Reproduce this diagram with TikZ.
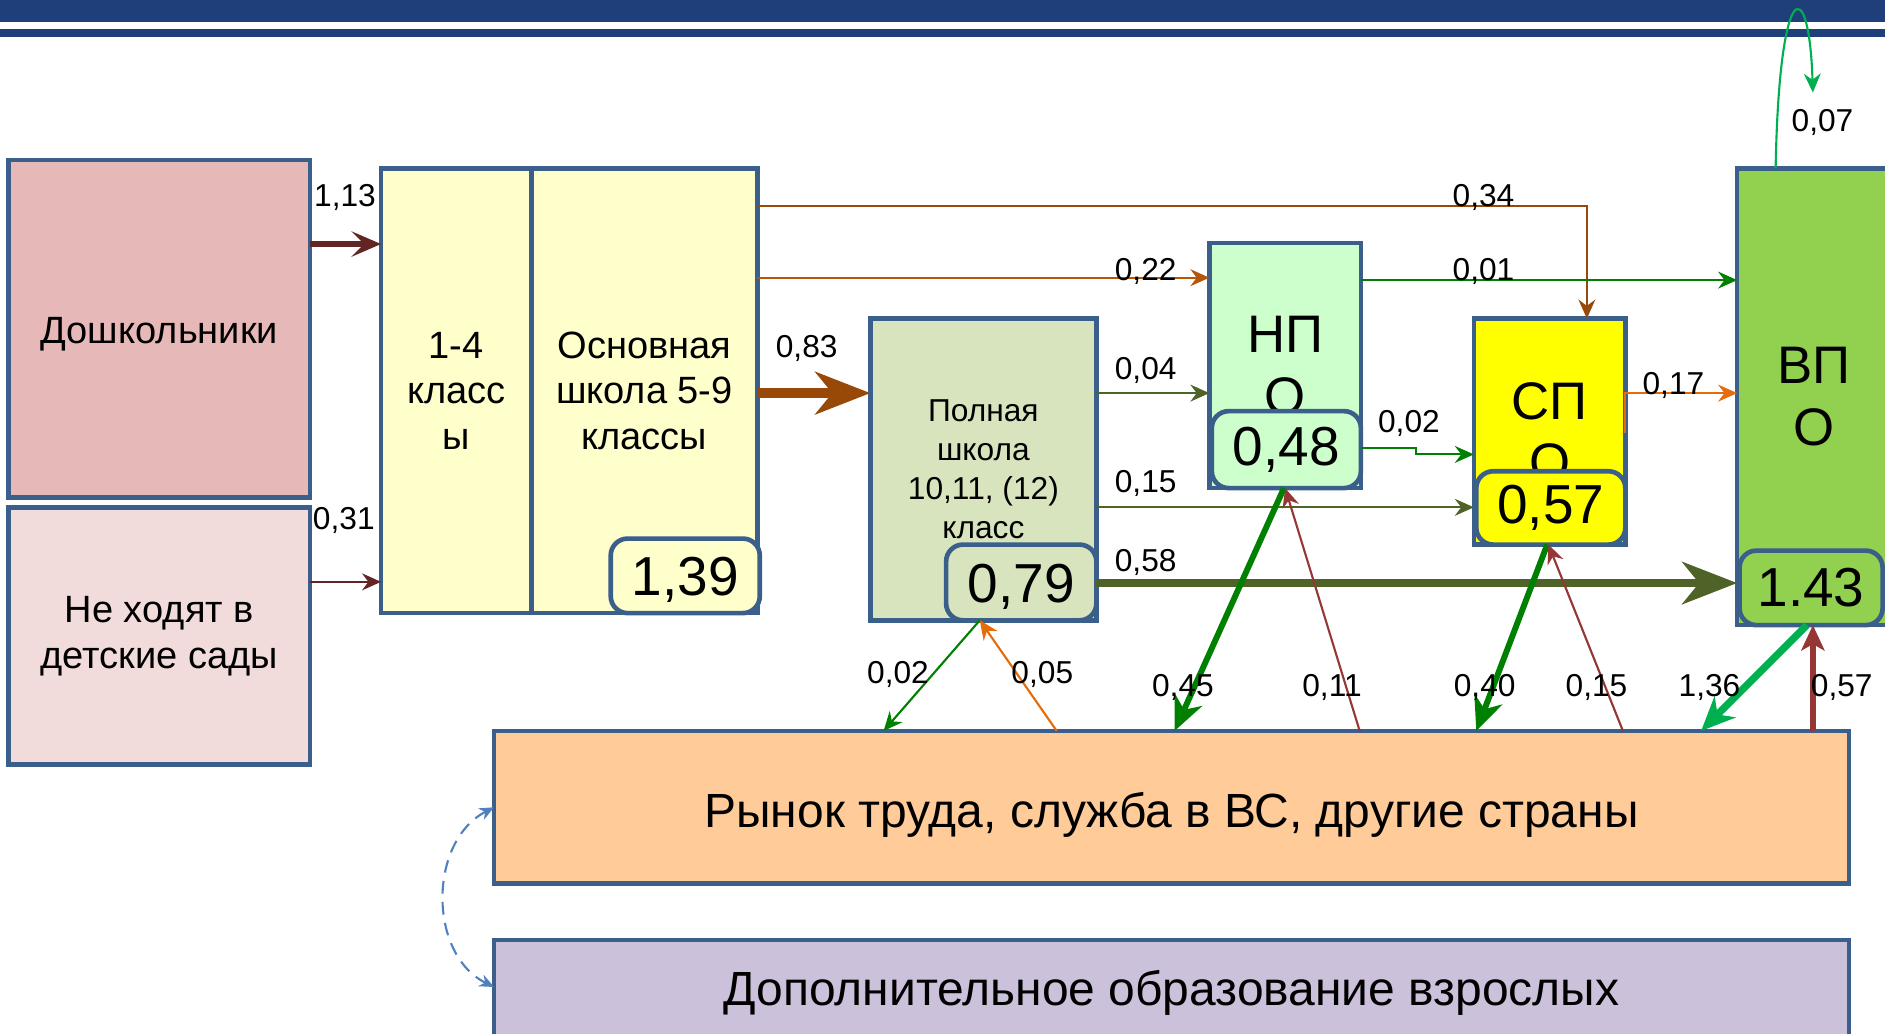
\documentclass[tikz,border=0pt]{standalone}
\usepackage{fontspec}
\setmainfont{Liberation Sans}
\usetikzlibrary{arrows.meta}
\definecolor{hdr}{HTML}{1F3F7B}
\definecolor{brd}{HTML}{3A5F8B}
\definecolor{doshkfill}{HTML}{E6B9B8}
\definecolor{nehodfill}{HTML}{F2DCDB}
\definecolor{shkfill}{HTML}{FFFFCC}
\definecolor{polnfill}{HTML}{D7E4BD}
\definecolor{npofill}{HTML}{CCFFCC}
\definecolor{spofill}{HTML}{FFFF00}
\definecolor{vpofill}{HTML}{92D050}
\definecolor{rynokfill}{HTML}{FFCC99}
\definecolor{dopfill}{HTML}{CCC1DA}
\definecolor{dkred}{HTML}{632523}
\definecolor{brn}{HTML}{984807}
\definecolor{ochre}{HTML}{B65708}
\definecolor{olv}{HTML}{4F6228}
\definecolor{grn}{HTML}{008000}
\definecolor{brgrn}{HTML}{00B050}
\definecolor{rd}{HTML}{953735}
\definecolor{orng}{HTML}{E46C0A}
\definecolor{dsh}{HTML}{4F81BD}
\newcommand\txtdown[2]{\raisebox{-#1}[\height][\depth]{#2}}
\begin{document}
\begin{tikzpicture}[box/.style = {draw=brd, line width=1.1pt, anchor=north west, inner sep=0pt, outer sep=0pt, align=center, font=\fontsize{9}{10.8}\selectfont},
                    val/.style = {box, rounded corners=4pt, font=\fontsize{13}{15}\selectfont},
                    big/.style = {font=\fontsize{12.5}{14.5}\selectfont},
                    wide/.style = {font=\fontsize{11.35}{13}\selectfont},
                    lbl/.style = {inner sep=0pt, font=\fontsize{7.5}{9}\selectfont},
                    arrow/.style = {line width=0.5pt, -{Stealth[length=4.5pt,width=4pt,inset=1.5pt]}},
                    midarrow/.style = {line width=1.4pt, -{Stealth[length=8pt,width=7pt,inset=2.5pt]}},
                    bigarrow/.style = {line width=2.3pt, -{Stealth[length=13pt,width=10pt,inset=4pt]}}]
    \useasboundingbox (0,0) rectangle (15.68,-8.60);
    \fill[hdr] (0,0) rectangle (15.68,-0.18);
    \fill[hdr] (0,-0.24) rectangle (15.68,-0.31);

    \node[box, fill=doshkfill, minimum width=2.51cm, minimum height=2.81cm] (doshk) at (0.07,-1.33) {\txtdown{1.2pt}{Дошкольники}};
    \node[box, fill=nehodfill, minimum width=2.51cm, minimum height=2.14cm] (nehod) at (0.07,-4.22) {Не ходят в\\детские сады};
    \node[box, fill=shkfill, minimum width=1.25cm, minimum height=3.70cm] (kl14) at (3.17,-1.40) {1-4\\класс\\ы};
    \node[box, fill=shkfill, minimum width=1.88cm, minimum height=3.70cm] (osn) at (4.42,-1.40) {Основная\\школа 5-9\\классы};
    \node[val, fill=shkfill, minimum width=1.24cm, minimum height=0.62cm] (v139) at (5.08,-4.48) {\txtdown{1pt}{1,39}};
    \node[box, fill=polnfill, minimum width=1.88cm, minimum height=2.51cm, font=\fontsize{7.5}{9.2}\selectfont] (poln) at (7.24,-2.65) {Полная\\школа\\10,11, (12)\\класс};
    \node[val, fill=polnfill, minimum width=1.25cm, minimum height=0.63cm] (v079) at (7.87,-4.53) {\txtdown{1pt}{0,79}};
    \node[box, big, fill=npofill, minimum width=1.26cm, minimum height=2.04cm] (npo) at (10.06,-2.02) {НП\\О};
    \node[val, fill=npofill, minimum width=1.24cm, minimum height=0.64cm] (v048) at (10.08,-3.42) {0,48};
    \node[box, big, fill=spofill, minimum width=1.26cm, minimum height=1.88cm] (spo) at (12.26,-2.65) {СП\\О};
    \node[val, fill=spofill, minimum width=1.24cm, minimum height=0.61cm] (v057) at (12.28,-3.92) {0,57};
    \node[box, big, fill=vpofill, minimum width=1.28cm, minimum height=3.80cm] (vpo) at (14.45,-1.40) {ВП\\О};
    \node[val, fill=vpofill, minimum width=1.19cm, minimum height=0.62cm] (v143) at (14.47,-4.58) {1.43};
    \node[box, wide, fill=rynokfill, minimum width=11.27cm, minimum height=1.27cm] (rynok) at (4.11,-6.08) {\txtdown{1.7pt}{Рынок труда, служба в ВС, другие страны}};
    \node[box, wide, fill=dopfill, minimum width=11.27cm, minimum height=0.95cm] (dop) at (4.11,-7.82) {\txtdown{-1.1pt}{Дополнительное образование взрослых}};

    \draw[dkred, line width=1.5pt, -{Stealth[length=7pt,width=6pt,inset=3pt]}] (doshk.east |- 0,-2.03) -- (kl14.west |- 0,-2.03);
    \draw[arrow, dkred] (nehod.east |- 0,-4.84) -- (kl14.west |- 0,-4.84);
    \draw[bigarrow, brn] (osn.east |- 0,-3.27) -- (poln.west |- 0,-3.27);
    \draw[arrow, brn] (osn.east |- 0,-1.71) -| ([xshift=-0.32cm]spo.north east);
    \draw[arrow, ochre] (osn.east |- 0,-2.31) -- (npo.west |- 0,-2.31);
    \draw[arrow, olv] (poln.east |- 0,-3.27) -- (npo.west |- 0,-3.27);
    \draw[arrow, olv] (poln.east |- 0,-4.22) -- (spo.west |- 0,-4.22);
    \draw[bigarrow, olv, line width=2pt] (v079.east |- 0,-4.85) -- (vpo.west |- 0,-4.85);
    \draw[arrow, grn] (npo.east |- 0,-2.33) -- (vpo.west |- 0,-2.33);
    \draw[arrow, grn] (v048.east |- 0,-3.73) -- (11.78,-3.73) -- (11.78,-3.78) -- (spo.west |- 0,-3.78);
    \draw[arrow, orng] (spo.east |- 0,-3.60) -- (spo.east |- 0,-3.27) -- (vpo.west |- 0,-3.27);
    \draw[arrow, brgrn] (vpo.north -| 14.77,0) .. controls (14.80,0.22) and (15.05,0.22) .. (15.08,-0.77);

    \draw[arrow, grn] (v079.south -| 8.15,0) -- (rynok.north -| 7.35,0);
    \draw[arrow, orng] (rynok.north -| 8.79,0) -- (v079.south -| 8.15,0);
    \draw[midarrow, grn] (npo.south -| 10.68,0) -- (rynok.north -| 9.77,0);
    \draw[arrow, rd] (rynok.north -| 11.31,0) -- (npo.south -| 10.69,0);
    \draw[midarrow, grn] (spo.south -| 12.87,0) -- (rynok.north -| 12.28,0);
    \draw[arrow, rd] (rynok.north -| 13.50,0) -- (spo.south -| 12.88,0);
    \draw[midarrow, brgrn, line width=1.7pt] (vpo.south -| 15.03,0) -- (rynok.north -| 14.15,0);
    \draw[rd, line width=1.3pt, -{Stealth[length=6pt,width=5.5pt,inset=1.5pt]}] (rynok.north -| 15.08,0) -- (vpo.south -| 15.08,0);
    \draw[dsh, line width=0.5pt, dash pattern=on 3pt off 2pt, {Stealth[length=3.5pt,width=3pt]}-{Stealth[length=3.5pt,width=3pt]}] (rynok.west) .. controls (3.56,-7.0) and (3.56,-7.94) .. (dop.west |- 0,-8.21);

    \node[lbl] (t113) at (2.87,-1.64) {1,13};
    \node[lbl] (t031) at (2.86,-4.33) {0,31};
    \node[lbl] (t083) at (6.71,-2.90) {0,83};
    \node[lbl] (t034) at (12.34,-1.64) {0,34};
    \node[lbl] (t022) at (9.53,-2.26) {0,22};
    \node[lbl] (t001) at (12.34,-2.26) {0,01};
    \node[lbl] (t004) at (9.53,-3.08) {0,04};
    \node[lbl] (t002a) at (11.72,-3.52) {0,02};
    \node[lbl] (t017) at (13.92,-3.21) {0,17};
    \node[lbl] (t015a) at (9.53,-4.02) {0,15};
    \node[lbl] (t058) at (9.53,-4.68) {0,58};
    \node[lbl] (t007) at (15.16,-1.02) {0,07};
    \node[lbl] (t002b) at (7.47,-5.61) {0,02};
    \node[lbl] (t005) at (8.67,-5.61) {0,05};
    \node[lbl] (t045) at (9.84,-5.72) {0,45};
    \node[lbl] (t011) at (11.08,-5.72) {0,11};
    \node[lbl] (t040) at (12.35,-5.72) {0,40};
    \node[lbl] (t015b) at (13.28,-5.72) {0,15};
    \node[lbl] (t136) at (14.22,-5.72) {1,36};
    \node[lbl] (t057) at (15.32,-5.72) {0,57};
\end{tikzpicture}
\end{document}
